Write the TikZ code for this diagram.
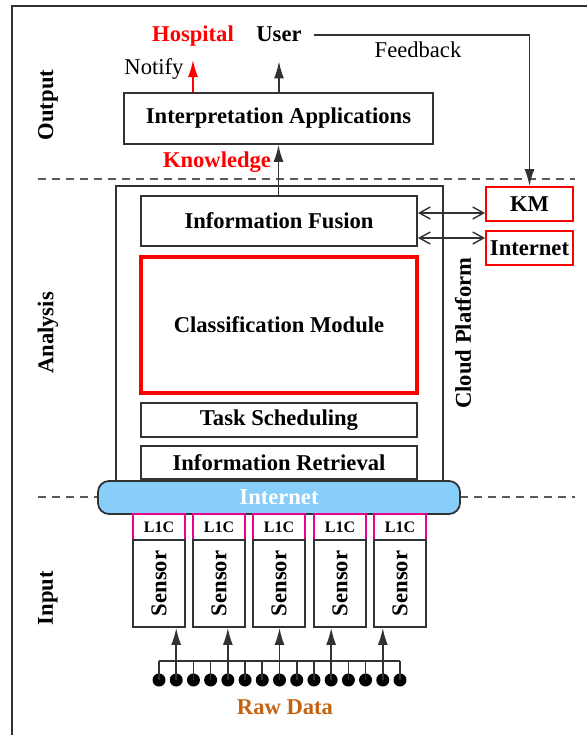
\documentclass[tikz,border=0pt]{standalone}
\usepackage{fontspec}
\setmainfont{Liberation Serif}
\usepackage{graphicx}
\usetikzlibrary{arrows.meta}
\definecolor{skyb}{RGB}{135,206,250}
\definecolor{rawc}{RGB}{196,98,16}
\definecolor{lc}{RGB}{50,50,50}
\begin{document}
\begin{tikzpicture}[x=1pt,y=-1pt,
  fnt/.style={font=\fontsize{22.6}{27}\selectfont\bfseries},
  box/.style={fnt,draw=lc,line width=1.8pt,inner sep=0pt,align=center},
  txt/.style={fnt,inner sep=0pt},
  ntxt/.style={font=\fontsize{22.6}{27}\selectfont,inner sep=0pt},
  arr/.style={-{Latex[length=17pt,width=10pt]},line width=1.6pt,draw=lc},
  dbl/.style={{Straight Barb[length=11pt,width=12pt]}-{Straight Barb[length=11pt,width=12pt]},line width=1.4pt,draw=lc},
  dline/.style={dashed,dash pattern=on 8pt off 6pt,line width=1.5pt,draw=black!65},
  dotn/.style={circle,fill=black,inner sep=0pt,minimum size=13pt},
  l1c/.style={draw=magenta,line width=1.6pt,inner sep=0pt,minimum width=52pt,minimum height=26pt,font=\fontsize{16}{19}\selectfont\bfseries},
  sens/.style={box,minimum width=52pt,minimum height=87pt}
]
\useasboundingbox (0,0) rectangle (587,735);
% frame
\draw[lc,line width=1.8pt] (12,735) -- (12,6) -- (587,6);

% dashed separators
\draw[dline] (38,179) -- (575,179);
\draw[dline] (38,497) -- (98,497);
\draw[dline] (460,497) -- (575,497);

% side labels
\node[txt,rotate=90] (lout) at (48,105) {Output};
\node[txt,rotate=90] (lana) at (48,333) {Analysis};
\node[txt,rotate=90] (linp) at (48,598) {Input};

% output section
\node[box,minimum width=309pt,minimum height=51pt] (interp) at (278.5,118.5) {Interpretation Applications};
\node[txt,red,anchor=base] (hosp) at (193,42) {Hospital};
\node[txt,anchor=base] (user) at (279,42) {User};
\node[ntxt] (notify) at (154,69) {Notify};
\node[ntxt] (fb) at (418,50) {Feedback};
\node[txt,red] (know) at (217,162) {Knowledge};

% cloud platform
\node[box,minimum width=327pt,minimum height=304pt] (cloud) at (279.5,338) {};
\node[box,minimum width=276pt,minimum height=50pt] (fusion) at (279,221) {Information Fusion};
\node[box,draw=red,line width=3.2pt,minimum width=276pt,minimum height=136pt] (class) at (279,325) {Classification Module};
\node[box,minimum width=276pt,minimum height=34pt] (task) at (279,420) {Task Scheduling};
\node[box,minimum width=276pt,minimum height=33pt] (retr) at (279,462.5) {Information Retrieval};
\node[txt,rotate=90] (cp) at (463,333) {Cloud Platform};

% KM / Internet
\node[box,draw=red,minimum width=87pt,minimum height=34pt] (km) at (529.5,204) {KM};
\node[box,draw=red,minimum width=87pt,minimum height=34pt] (inet2) at (529.5,248) {Internet};

% internet bar
\node[box,fill=skyb,rounded corners=11pt,text=white,minimum width=362pt,minimum height=33pt] (inet) at (279,497.5) {Internet};

% arrows top
\draw[arr,draw=red,-{Latex[length=17pt,width=10pt,fill=red]},shorten >=13pt] (interp.north -| hosp.south) -- (hosp.south);
\draw[arr,shorten >=19pt] (interp.north -| user.south) -- (user.south);
\draw[arr,shorten <=12pt] (user.east) -| (km.north);
\draw[arr] (fusion.north -| interp.south) -- (interp.south);

% double arrows
\coordinate (ya) at (0,213);
\coordinate (yb) at (0,238);
\draw[dbl] (fusion.east |- ya) -- (km.west |- ya);
\draw[dbl] (fusion.east |- yb) -- (inet2.west |- yb);

% sensors
\foreach \i/\x in {1/159,2/219,3/279,4/340,5/400}{
  \node[l1c] (c\i) at (\x,527) {L1C};
  \node[sens] (s\i) at (\x,583.5) {\rotatebox{90}{Sensor}};
}

% raw data
\coordinate (busL) at (159,661);
\coordinate (busR) at (400,661);
\draw[lc,line width=1.6pt] (busL) -- (busR);
\foreach \k in {0,...,14}{
  \node[dotn] (d\k) at ({159+\k*241/14},680) {};
  \draw[lc,line width=1.6pt] (d\k.center) -- (d\k.center |- busL);
}
\draw[arr] (d1.center |- busL) -- (d1.center |- s1.south);
\draw[arr] (d4.center |- busL) -- (d4.center |- s2.south);
\draw[arr] (d7.center |- busL) -- (d7.center |- s3.south);
\draw[arr] (d10.center |- busL) -- (d10.center |- s4.south);
\draw[arr] (d13.center |- busL) -- (d13.center |- s5.south);
\node[txt,text=rawc] (raw) at (285,707) {Raw Data};
\end{tikzpicture}
\end{document}
